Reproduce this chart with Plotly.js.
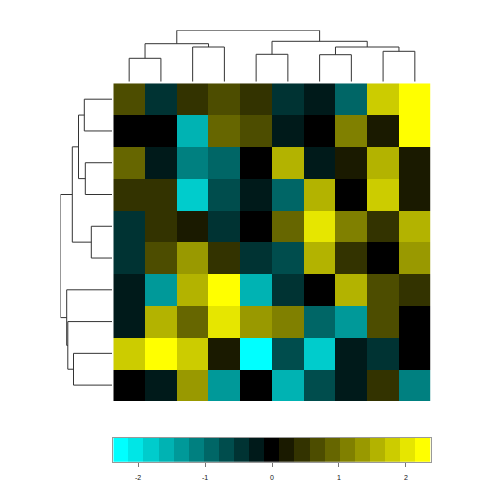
<!DOCTYPE html>
<html>
<head>
<meta charset="utf-8">
<script src="https://cdn.plot.ly/plotly-3.0.1.min.js"></script>
<style>html,body{margin:0;padding:0;background:#fff;}#chart{width:480px;height:480px;}</style>
</head>
<body>
<div id="chart"></div>
<script>
// ---- data (rows top->bottom, columns left->right, in dendrogram order) ----
const rowLabels = [1,2,3,4,5,6,7,8,9,10];
const colLabels = [1,2,3,4,5,6,7,8,9,10];
const row1  = [0.66, -0.47, 0.43, 0.70, 0.46, -0.44, -0.21, -0.92, 1.79, 2.31];
const row2  = [0.02, -0.05, -1.56, 0.88, 0.69, -0.24, -0.03, 1.12, 0.25, 2.24];
const row3  = [0.91, -0.20, -1.14, -0.88, 0.04, 1.60, -0.22, 0.19, 1.55, 0.22];
const row4  = [0.47, 0.44, -1.83, -0.69, -0.24, -0.93, 1.57, -0.06, 1.78, 0.24];
const row5  = [-0.45, 0.48, 0.21, -0.46, 0.07, 0.92, 2.05, 1.11, 0.44, 1.61];
const row6  = [-0.43, 0.67, 1.37, 0.42, -0.47, -0.66, 1.56, 0.43, 0.01, 1.34];
const row7  = [-0.22, -1.33, 1.59, 2.28, -1.60, -0.44, -0.08, 1.57, 0.69, 0.47];
const row8  = [-0.24, 1.56, 0.86, 2.01, 1.36, 1.13, -0.91, -1.37, 0.66, -0.05];
const row9  = [1.80, 2.27, 1.82, 0.25, -2.35, -0.68, -1.81, -0.19, -0.44, 0.08];
const row10 = [0.03, -0.23, 1.33, -1.38, -0.02, -1.57, -0.70, -0.21, 0.46, -1.10];

// column dendrogram (hclust style: negative = leaf, positive = earlier merge)
const colMergeA = [-1, -3, 1, -5, -7, -9, 5, 4, 3];
const colMergeB = [-2, -4, 2, -6, -8, -10, 6, 7, 8];
const colHeight = [2.34, 3.47, 3.80, 2.74, 2.70, 3.04, 3.47, 4.04, 5.14];
// row dendrogram
const rowMergeA = [-1, -3, 1, -5, 3, -9, -8, -7, 5];
const rowMergeB = [-2, -4, 2, -6, 4, -10, 6, 7, 8];
const rowHeight = [2.77, 2.67, 3.35, 2.07, 3.97, 3.85, 4.42, 4.53, 5.15];

// colour key
const zLimit = 2.37;
const keyTicks = [-2, -1, 0, 1, 2];
const palette = [
 'rgb(0,255,255)','rgb(0,230,230)','rgb(0,204,204)','rgb(0,179,179)','rgb(0,153,153)',
 'rgb(0,128,128)','rgb(0,102,102)','rgb(0,77,77)','rgb(0,51,51)','rgb(0,26,26)',
 'rgb(0,0,0)',
 'rgb(26,26,0)','rgb(51,51,0)','rgb(77,77,0)','rgb(102,102,0)','rgb(128,128,0)',
 'rgb(153,153,0)','rgb(179,179,0)','rgb(204,204,0)','rgb(230,230,0)','rgb(255,255,0)'
];

// ---- build ----
const z = [row1,row2,row3,row4,row5,row6,row7,row8,row9,row10];
const n = palette.length;
const colorscale = [];
palette.forEach((c,i)=>{ colorscale.push([i/n, c]); colorscale.push([(i+1)/n, c]); });
const binW = 2*zLimit/n;
const keyX = palette.map((c,i)=> -zLimit + binW*(i+0.5));

function dendroPath(A, B, H, horizontal){
  const pos = [], hgt = [];
  const xs = [], ys = [];
  const get = (k)=> k<0 ? [-k, 0] : [pos[k-1], hgt[k-1]];
  for(let i=0;i<A.length;i++){
    const [pa, ha] = get(A[i]);
    const [pb, hb] = get(B[i]);
    const h = H[i];
    const P = [pa, pa, pb, pb], Q = [ha, h, h, hb];
    if(horizontal){ xs.push(...Q, null); ys.push(...P, null); }
    else { xs.push(...P, null); ys.push(...Q, null); }
    pos.push((pa+pb)/2); hgt.push(h);
  }
  return {x: xs, y: ys};
}
const topD = dendroPath(colMergeA, colMergeB, colHeight, false);
const leftD = dendroPath(rowMergeA, rowMergeB, rowHeight, true);

const px = v => v/480;
const hx0 = px(113.3), hx1 = px(430.7);
const hy0 = 1 - px(401), hy1 = 1 - px(83.3);

const lineStyle = {color:'#333333', width:1};
const traces = [
  {type:'heatmap', x: colLabels, y: rowLabels, z: z, colorscale: colorscale,
   zmin: -zLimit, zmax: zLimit, showscale:false, xaxis:'x', yaxis:'y', hoverinfo:'skip'},
  {type:'scatter', mode:'lines', x: topD.x, y: topD.y, line: lineStyle,
   xaxis:'x2', yaxis:'y2', hoverinfo:'skip', connectgaps:false},
  {type:'scatter', mode:'lines', x: leftD.x, y: leftD.y, line: lineStyle,
   xaxis:'x3', yaxis:'y3', hoverinfo:'skip', connectgaps:false},
  {type:'heatmap', x: keyX, y:[0.5], z:[keyX], colorscale: colorscale,
   zmin: -zLimit, zmax: zLimit, showscale:false, xaxis:'x4', yaxis:'y4', hoverinfo:'skip'}
];

const hidden = {showgrid:false, zeroline:false, showticklabels:false, ticks:'', showline:false, fixedrange:true};
const layout = {
  width:480, height:480, margin:{l:0,r:0,t:0,b:0},
  paper_bgcolor:'#ffffff', plot_bgcolor:'#ffffff', showlegend:false,
  xaxis: Object.assign({}, hidden, {domain:[hx0,hx1], range:[0.5,10.5], anchor:'y'}),
  yaxis: Object.assign({}, hidden, {domain:[hy0,hy1], range:[10.5,0.5], anchor:'x'}),
  xaxis2: Object.assign({}, hidden, {domain:[hx0,hx1], range:[0.5,10.5], anchor:'y2'}),
  yaxis2: Object.assign({}, hidden, {domain:[1-px(81.7), 1-px(30.3)], range:[0,5.14], anchor:'x2'}),
  xaxis3: Object.assign({}, hidden, {domain:[px(60.5), px(112)], range:[5.15,0], anchor:'y3'}),
  yaxis3: Object.assign({}, hidden, {domain:[hy0,hy1], range:[10.5,0.5], anchor:'x3'}),
  xaxis4: {domain:[hx0,hx1], range:[-zLimit,zLimit], anchor:'y4', showgrid:false, zeroline:false,
           tickmode:'array', tickvals:keyTicks, ticktext:keyTicks.map(String),
           ticks:'outside', ticklen:4, tickcolor:'#777777', tickwidth:1, ticklabelstandoff:5,
           tickfont:{family:'Liberation Sans, Arial, sans-serif', size:7, color:'#111111'},
           showline:true, mirror:true, linecolor:'#999999', linewidth:1, fixedrange:true},
  yaxis4: {domain:[1-px(461.7), 1-px(438)], range:[0,1], anchor:'x4', showgrid:false, zeroline:false,
           showticklabels:false, ticks:'', showline:true, mirror:true, linecolor:'#999999', linewidth:1, fixedrange:true}
};
Plotly.newPlot('chart', traces, layout, {staticPlot:true, displayModeBar:false});
</script>
</body>
</html>
